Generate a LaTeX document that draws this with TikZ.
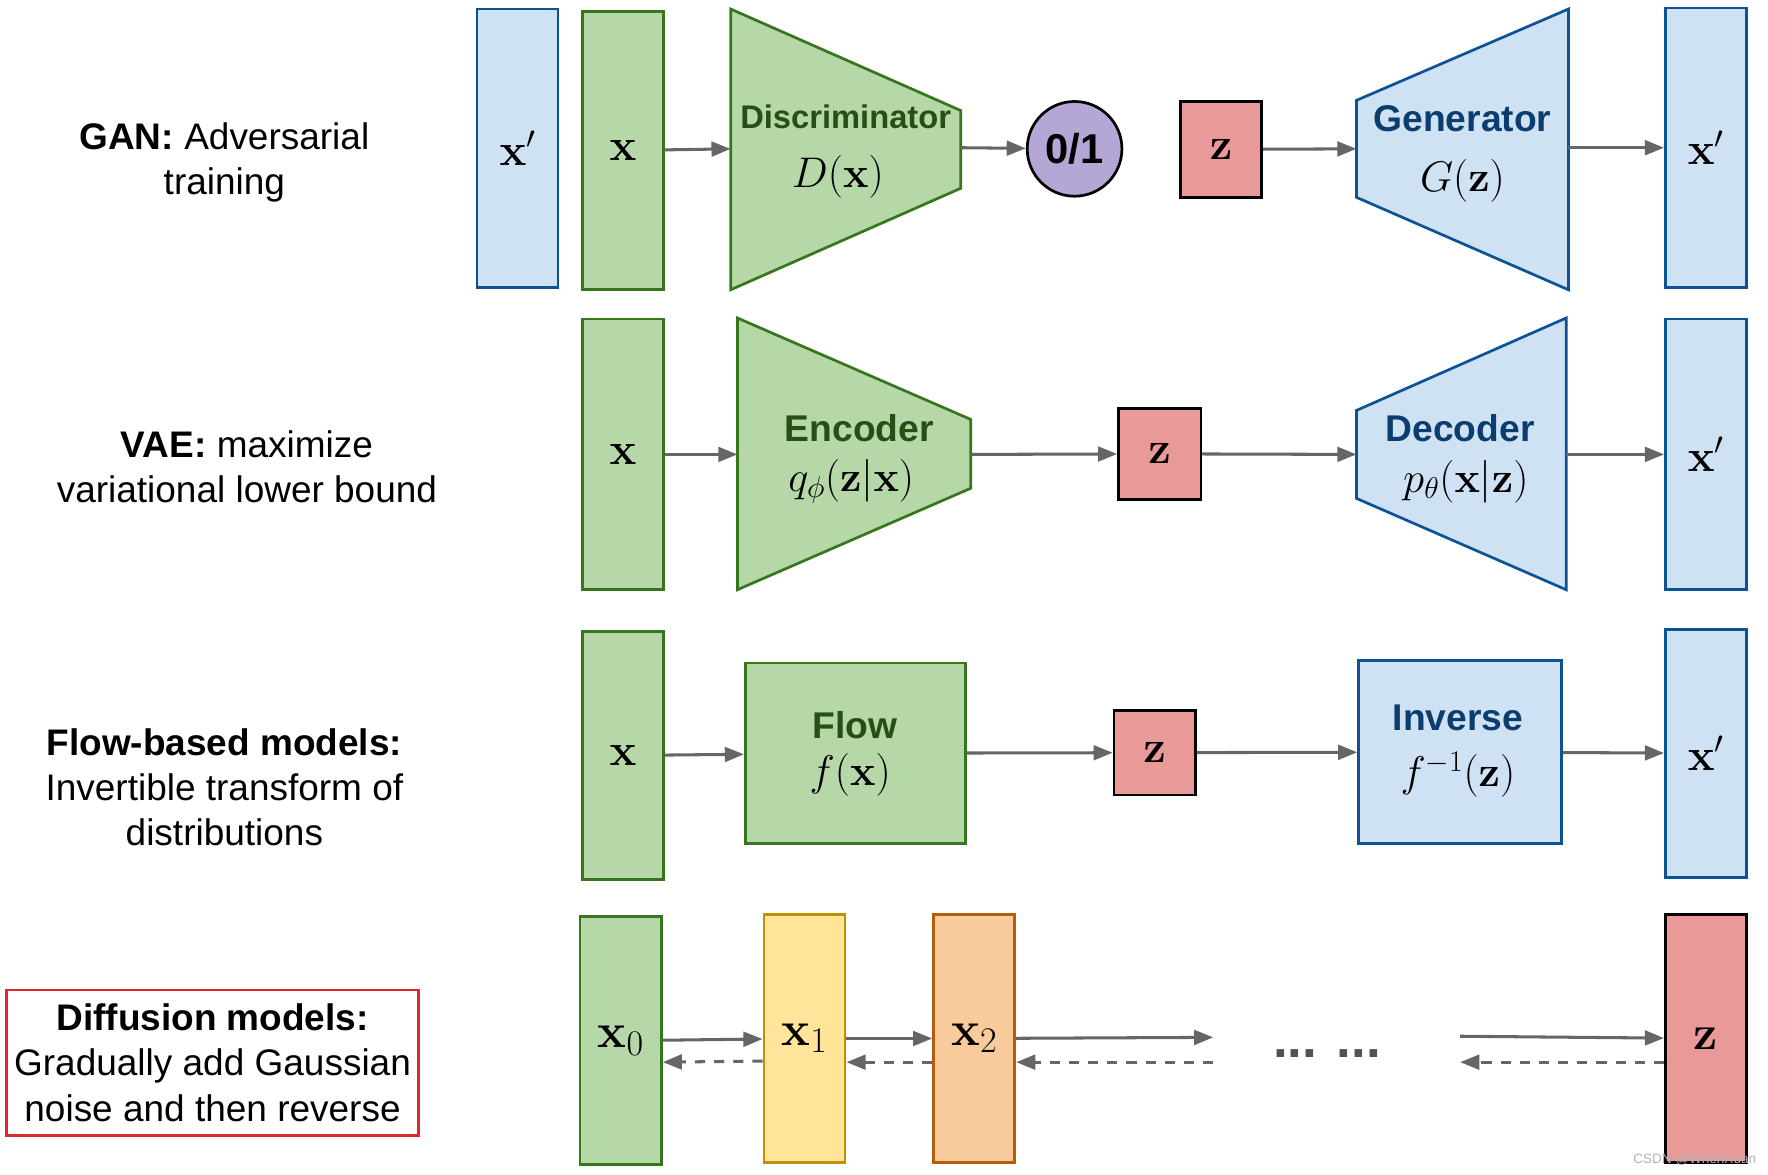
\RequirePackage{fix-cm}
\documentclass[tikz,border=0pt]{standalone}
\usepackage[no-math]{fontspec}
\newfontfamily\labelfont{Liberation Sans}
\usetikzlibrary{arrows.meta}

\definecolor{greenfill}{HTML}{B6D7A8}
\definecolor{greenline}{HTML}{38761D}
\definecolor{greentext}{HTML}{274E13}
\definecolor{bluefill}{HTML}{CFE2F3}
\definecolor{blueline}{HTML}{0B5394}
\definecolor{bluetext}{HTML}{0B3D6E}
\definecolor{redfill}{HTML}{EA9999}
\definecolor{purplefill}{HTML}{B4A7D6}
\definecolor{yellowfill}{HTML}{FFE599}
\definecolor{yellowline}{HTML}{BF9000}
\definecolor{orangefill}{HTML}{F9CB9C}
\definecolor{orangeline}{HTML}{B45F06}
\definecolor{arrowgray}{HTML}{666666}
\definecolor{framered}{HTML}{E0262E}

\newcommand{\subsize}[1]{\mbox{\fontsize{32}{32}\selectfont$#1$}}

\tikzset{
  block/.style={draw, line width=2.4pt, inner sep=0pt, minimum width=72pt, font=\fontsize{40}{48}\selectfont},
  greenblock/.style={block, fill=greenfill, draw=greenline},
  blueblock/.style={block, fill=bluefill, draw=blueline},
  redblock/.style={block, fill=redfill, draw=black},
  netshape/.style={line width=2.4pt, line join=miter},
  nettitle/.style={font=\labelfont\bfseries\fontsize{33}{40}\selectfont},
  netmath/.style={font=\fontsize{38}{46}\selectfont},
  arr/.style={draw=arrowgray, line width=2.7pt, -{Triangle[length=17pt,width=13pt]}},
  backarr/.style={arr, dash pattern=on 9pt off 8pt},
  rowlabel/.style={align=center, font=\labelfont\fontsize{32.8}{40}\selectfont}
}

\begin{document}
\begin{tikzpicture}[x=1pt,y=-1pt]
  \useasboundingbox (0,0) rectangle (1568,1042);

  % row labels
  \node[rowlabel] (ganlabel) at (199,144) {\textbf{GAN:} Adversarial\\training};
  \node[rowlabel] (vaelabel) at (219,414) {\textbf{VAE:} maximize\\variational lower bound};
  \node[rowlabel] (flowlabel) at (199,698) {\textbf{Flow-based models:}\\Invertible transform of\\distributions};
  \node[rowlabel, draw=framered, line width=2.4pt, minimum width=365pt, minimum height=129pt]
    (difflabel) at (188.5,942.5) {\textbf{Diffusion models:}\\Gradually add Gaussian\\noise and then reverse};

  % GAN
  \node[blueblock, minimum height=247pt] (ganfake) at (459,131.5) {$\mathbf{x}'$};
  \node[greenblock, minimum height=247pt] (ganreal) at (552.5,133.5) {$\mathbf{x}$};
  \draw[netshape, fill=greenfill, draw=greenline] (648,8) -- (852,98) -- (852,167) -- (648,257) -- cycle;
  \coordinate (discin) at (648,132);
  \coordinate (discout) at (852,131);
  \node[nettitle, font=\labelfont\bfseries\fontsize{29}{35}\selectfont, text=greentext] (disctitle) at (750,104) {Discriminator};
  \node[netmath] (discfun) at (743,157) {$D(\mathbf{x})$};
  \node[circle, draw, line width=2.4pt, fill=purplefill, minimum size=84pt, inner sep=0pt,
    font=\labelfont\bfseries\fontsize{37}{44}\selectfont] (score) at (953,132) {0/1};
  \node[redblock, minimum height=85pt] (gannoise) at (1083,132.5) {$\mathbf{z}$};
  \draw[netshape, fill=bluefill, draw=blueline] (1203,89) -- (1391,8) -- (1391,257) -- (1203,175) -- cycle;
  \coordinate (genin) at (1203,132);
  \coordinate (genout) at (1391,131);
  \node[nettitle, text=bluetext] (gentitle) at (1297,105) {Generator};
  \node[netmath] (genfun) at (1297,160) {$G(\mathbf{z})$};
  \node[blueblock, minimum height=248pt] (ganout) at (1513,131) {$\mathbf{x}'$};
  \draw[arr] (ganreal) -- (discin);
  \draw[arr] (discout) -- (score);
  \draw[arr] (gannoise) -- (genin);
  \draw[arr] (genout) -- (ganout);

  % VAE
  \node[greenblock, minimum height=240pt] (vaein) at (552.5,403) {$\mathbf{x}$};
  \draw[netshape, fill=greenfill, draw=greenline] (654,282) -- (861,372) -- (861,433) -- (654,523) -- cycle;
  \coordinate (encin) at (654,403);
  \coordinate (encout) at (861,403);
  \node[nettitle, text=greentext] (enctitle) at (762,380) {Encoder};
  \node[netmath] (encfun) at (755,427) {$q_\phi(\mathbf{z}|\mathbf{x})$};
  \node[redblock, minimum width=73pt, minimum height=81pt] (vaenoise) at (1028.5,402.5) {$\mathbf{z}$};
  \draw[netshape, fill=bluefill, draw=blueline] (1203,364) -- (1389,282) -- (1389,523) -- (1203,442) -- cycle;
  \coordinate (decin) at (1203,403);
  \coordinate (decout) at (1389,403);
  \node[nettitle, text=bluetext] (dectitle) at (1295,380) {Decoder};
  \node[netmath] (decfun) at (1300,427) {$p_\theta(\mathbf{x}|\mathbf{z})$};
  \node[blueblock, minimum height=240pt] (vaeout) at (1513,403) {$\mathbf{x}'$};
  \draw[arr] (vaein) -- (encin);
  \draw[arr] (encout) -- (vaenoise);
  \draw[arr] (vaenoise) -- (decin);
  \draw[arr] (decout) -- (vaeout);

  % flow
  \node[greenblock, minimum height=220pt] (flowin) at (552.5,670) {$\mathbf{x}$};
  \node[greenblock, minimum width=195pt, minimum height=160pt] (flow) at (758.5,668) {};
  \node[nettitle, text=greentext] (flowtitle) at (758,643) {Flow};
  \node[netmath] (flowfun) at (754,687) {$f(\mathbf{x})$};
  \node[redblock, minimum height=75pt] (flownoise) at (1024,667.5) {$\mathbf{z}$};
  \node[blueblock, minimum width=180pt, minimum height=162pt] (inverse) at (1295,667) {};
  \node[nettitle, text=bluetext] (invtitle) at (1293,637) {Inverse};
  \node[netmath] (invfun) at (1293,687) {$f^{-1}(\mathbf{z})$};
  \node[blueblock, minimum height=220pt] (flowout) at (1513,668) {$\mathbf{x}'$};
  \draw[arr] (flowin) -- (flow);
  \draw[arr] (flow) -- (flownoise);
  \draw[arr] (flownoise) -- (inverse);
  \draw[arr] (inverse) -- (flowout);

  % diffusion
  \foreach \name/\xc/\yc/\fillc/\linec/\lab in {x0/550.5/923/greenfill/greenline/\mathbf{x}_{\subsize{0}},
      x1/713.5/921/yellowfill/yellowline/\mathbf{x}_{\subsize{1}}, x2/864/921/orangefill/orangeline/\mathbf{x}_{\subsize{2}},
      xT/1513/921/redfill/black/\mathbf{z}}
    \node[block, fill=\fillc, draw=\linec, minimum height=220pt, font=\fontsize{43}{50}\selectfont] (\name) at (\xc,\yc) {$\lab$};
  \coordinate (gapin) at (1076,920);
  \coordinate (gapout) at (1295,919);
  \coordinate (gapbackin) at (1295,942);
  \coordinate (gapbackout) at (1076,942);
  \draw[arr] (x0) -- (x1);
  \draw[arr] (x1) -- (x2);
  \draw[arr] (x2) -- (gapin);
  \draw[arr] (gapout) -- (xT);
  \draw[backarr] ([yshift=-20pt]x1.west) -- ([yshift=-19pt]x0.east);
  \draw[backarr] ([yshift=-21pt]x2.west) -- ([yshift=-21pt]x1.east);
  \draw[backarr] (gapbackout) -- ([yshift=-21pt]x2.east);
  \draw[backarr] ([yshift=-21pt]xT.west) -- (gapbackin);
  \node[font=\labelfont\bfseries\fontsize{47}{50}\selectfont, text=black!68, inner sep=0pt, anchor=base]
    (dots) at (1177,938) {... ...};

  \node[font=\labelfont\fontsize{12}{14}\selectfont, text=gray!60] (mark) at (1503,1028) {CSDN @WhenXuan};
\end{tikzpicture}
\end{document}
